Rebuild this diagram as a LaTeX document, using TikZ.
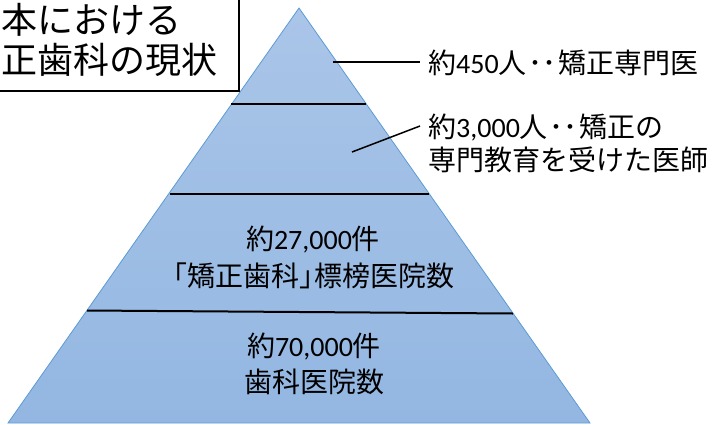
\documentclass[tikz,border=0pt]{standalone}
\usepackage{fontspec}
\setmainfont{Carlito}
\newfontfamily\jpfont{Noto Sans CJK JP}
\newcommand{\J}[1]{{\jpfont #1}}
\definecolor{pyrtop}{RGB}{170,197,232}
\definecolor{pyrbot}{RGB}{147,183,226}
\definecolor{pyredge}{RGB}{91,155,213}
\tikzset{
  lbl/.style={inner sep=0pt, anchor=base west, font=\fontsize{28}{30}\selectfont},
  ctr/.style={inner sep=0pt, anchor=base, font=\fontsize{28}{30}\selectfont},
  ttl/.style={inner sep=0pt, anchor=base west, font=\fontsize{36}{40}\selectfont\jpfont},
  divider/.style={black, line width=2pt},
  leader/.style={black, line width=1.5pt},
}
\begin{document}
\begin{tikzpicture}[x=1pt, y=-1pt]
\useasboundingbox (0,0) rectangle (713,424);
\clip (0,0) rectangle (713,424);
% pyramid
\coordinate (apex) at (299,8);
\coordinate (bl) at (8,423);
\coordinate (br) at (590,423);
\shade[top color=pyrtop, bottom color=pyrbot] (apex) -- (bl) -- (br) -- cycle;
\draw[pyredge, line width=0.8pt] (apex) -- (bl) -- (br) -- cycle;
% dividers
\coordinate (d1l) at (231,104); \coordinate (d1r) at (366,104);
\coordinate (d2l) at (170,193.5); \coordinate (d2r) at (429,193.5);
\coordinate (d3l) at (87,310.5); \coordinate (d3r) at (513,313.5);
\draw[divider] (d1l) -- (d1r);
\draw[divider] (d2l) -- (d2r);
\draw[divider] (d3l) -- (d3r);
% title box
\draw[black, line width=1.5pt] (-10,-10) rectangle (239,91);
\node[ttl] (t1) at (1,33.5) {本における};
\node[ttl] (t2) at (1,73.5) {正歯科の現状};
% pyramid texts
\node[ctr] (p1) at (313,249.5) {\J{約}27,000\J{件}};
\node[ctr] (p2) at (313,286.5) {\J{\hspace{-0.45em}「矯正歯科」\hspace{-0.45em}標榜医院数}};
\node[ctr] (p3) at (314,356.5) {\J{約}70,000\J{件}};
\node[ctr] (p4) at (314,392.5) {\J{歯科医院数}};
% right labels
\node[lbl] (l1) at (428,73.5) {\J{約}450\J{人\kern2pt･･\kern2pt矯正専門医}};
\node[lbl] (l2) at (428,137.5) {\J{約}3,000\J{人\kern2pt･･\kern2pt矯正の}};
\node[lbl] (l3) at (428,170.5) {\J{専門教育を受けた医師}};
% leaders
\coordinate (a1) at (333,62); \coordinate (b1) at (420,62);
\coordinate (a2) at (352,152); \coordinate (b2) at (420,126);
\draw[leader] (a1) -- (b1);
\draw[leader] (a2) -- (b2);
\end{tikzpicture}
\end{document}
